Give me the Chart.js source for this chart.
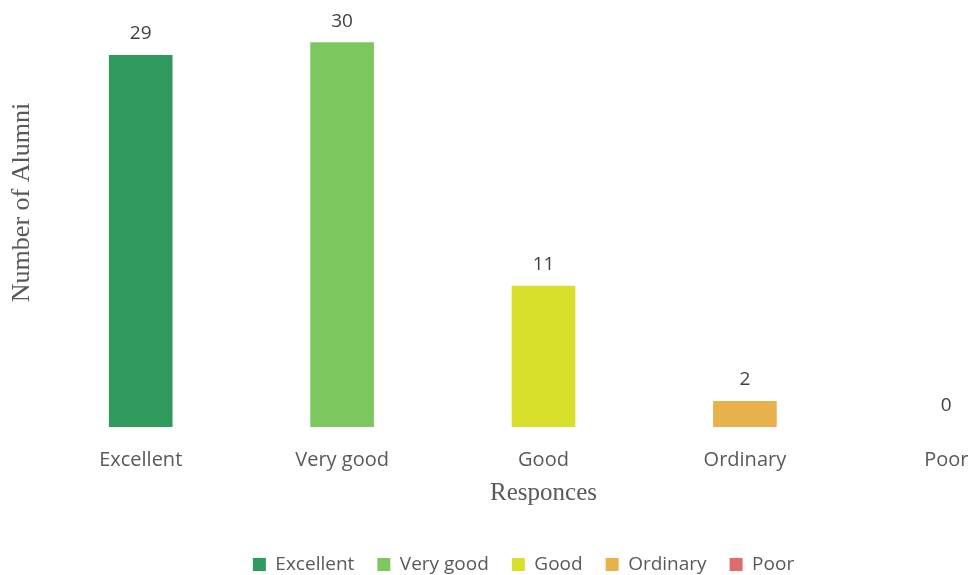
<!DOCTYPE html>
<html>
<head>
<meta charset="utf-8">
<script src="https://cdn.jsdelivr.net/npm/chart.js@4"></script>
<style>
    html, body { margin: 0; padding: 0; background: #fff; }
    #frame { width: 970px; height: 575px; overflow: hidden; position: relative; }
    #wrap { width: 1050px; height: 584px; position: absolute; left: 0; top: 0; }
</style>
</head>
<body>
<div id="frame"><div id="wrap"><canvas id="alumniChart"></canvas></div></div>
<script>
const categories = ['Excellent', 'Very good', 'Good', 'Ordinary', 'Poor'];
const counts = [29, 30, 11, 2, 0];
const barColors = ['#2f9a5c', '#7dc85e', '#d9e02b', '#e7b24b', '#e06b6b'];

// draws the count above each bar
const valueLabels = {
    id: 'valueLabels',
    afterDatasetsDraw(chart) {
        const ctx = chart.ctx;
        const meta = chart.getDatasetMeta(0);
        ctx.save();
        ctx.font = '19px "Open Sans"';
        ctx.fillStyle = '#404040';
        ctx.textAlign = 'center';
        ctx.textBaseline = 'bottom';
        meta.data.forEach((bar, i) => {
            ctx.fillText(String(counts[i]), bar.x, bar.y - 12);
        });
        ctx.restore();
    }
};

document.addEventListener('DOMContentLoaded', () => {
    const ctx = document.getElementById('alumniChart').getContext('2d');

    new Chart(ctx, {
        type: 'bar',
        data: {
            labels: categories,
            datasets: [{
                label: 'Number of Alumni',
                data: counts,
                // a zero bar leaves no mark
                backgroundColor: (c) => counts[c.dataIndex] === 0 ? 'rgba(0,0,0,0)' : barColors[c.dataIndex],
                borderWidth: 0,
                barThickness: 63
            }]
        },
        options: {
            responsive: true,
            maintainAspectRatio: false,
            animation: false,
            layout: { padding: { top: 17, right: 3 } },
            scales: {
                x: {
                    grid: { display: false, drawTicks: false },
                    border: { display: false },
                    ticks: {
                        padding: 21,
                        color: '#595959',
                        font: { family: 'Open Sans', size: 20 }
                    },
                    title: {
                        display: true,
                        text: 'Responces',
                        color: '#595959',
                        font: { family: 'Liberation Serif', size: 25 },
                        padding: { top: -15, bottom: 24 }
                    }
                },
                y: {
                    min: 0,
                    max: 32,
                    grid: { display: false },
                    border: { display: false },
                    ticks: { display: false },
                    title: {
                        display: true,
                        text: '\u00a0\u00a0\u00a0\u00a0\u00a0\u00a0Number of Alumni',
                        color: '#595959',
                        font: { family: 'Liberation Serif', size: 26 },
                        padding: { top: 7, bottom: 0 }
                    },
                    afterFit: (scale) => { scale.width = 40; }
                }
            },
            plugins: {
                legend: {
                    position: 'bottom',
                    labels: {
                        boxWidth: 13,
                        boxHeight: 13,
                        padding: 23,
                        color: '#595959',
                        font: { family: 'Open Sans', size: 19 },
                        generateLabels: () => categories.map((c, i) => ({
                            text: c,
                            fillStyle: barColors[i],
                            strokeStyle: barColors[i],
                            fontColor: '#595959',
                            lineWidth: 0,
                            hidden: false,
                            index: i
                        }))
                    }
                },
                tooltip: { enabled: false }
            }
        },
        plugins: [valueLabels]
    });
});
</script>
</body>
</html>
